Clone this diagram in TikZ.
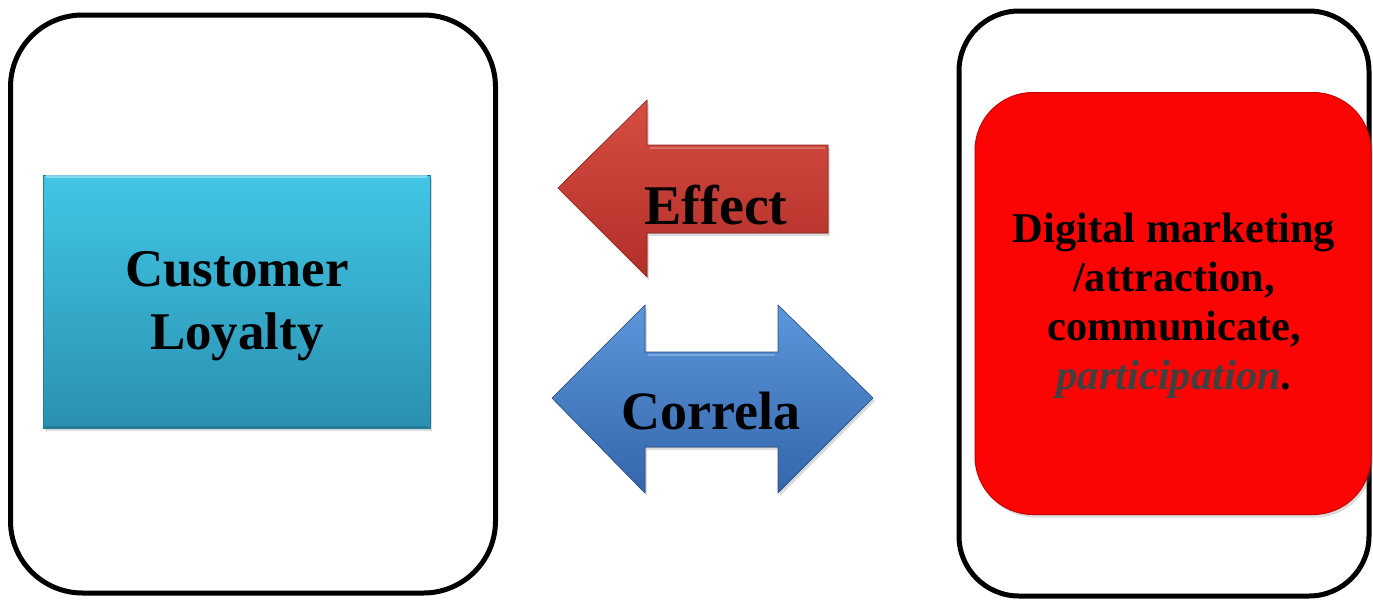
\documentclass[tikz,border=0pt]{standalone}
\usepackage{fontspec}
\setmainfont{Liberation Serif}
\usetikzlibrary{shadows}

\definecolor{cyanTop}{RGB}{66,198,230}
\definecolor{cyanBot}{RGB}{42,144,176}
\definecolor{effTop}{RGB}{214,78,66}
\definecolor{effBot}{RGB}{178,46,40}
\definecolor{corTop}{RGB}{92,150,218}
\definecolor{corBot}{RGB}{52,102,170}
\definecolor{boxRed}{RGB}{252,4,4}
\definecolor{partGray}{RGB}{64,64,64}

\tikzset{
  frame/.style={draw=black, line width=5pt, fill=white, inner sep=0pt},
  softshadow/.style={drop shadow={opacity=0.28, shadow xshift=2pt, shadow yshift=-3pt}},
  label/.style={font=\bfseries, text=black, align=center, inner sep=0pt},
}

\begin{document}
\begin{tikzpicture}[x=1pt, y=-1pt]
  \useasboundingbox (0,0) rectangle (1373,600);

  % outer frames
  \node[frame, rounded corners=72pt, minimum width=485pt, minimum height=578pt]
    (leftframe) at (253,304) {};
  \node[frame, rounded corners=60pt, minimum width=410pt, minimum height=585pt]
    (rightframe) at (1164,303.5) {};

  % customer loyalty box
  \node[softshadow, top color=cyanTop, bottom color=cyanBot, draw=cyanBot!85!black, line width=0.6pt,
        minimum width=387pt, minimum height=253pt, inner sep=0pt]
    (loyalty) at (236.5,301.5) {};
  \draw[cyanTop!55!white, line width=3pt, opacity=0.8]
    ([xshift=3pt,yshift=-2pt]loyalty.north west) -- ([xshift=-3pt,yshift=-2pt]loyalty.north east);
  \draw[cyanBot!70!black, line width=2pt, opacity=0.5]
    ([xshift=2pt,yshift=1.5pt]loyalty.south west) -- ([xshift=-2pt,yshift=1.5pt]loyalty.south east);
  \node[label, font=\fontsize{53}{63}\selectfont\bfseries] (loyaltytext) at (237,306)
    {Customer\\Loyalty};

  % digital marketing box, lying over the frame's right side
  \node[softshadow, fill=boxRed, draw=red!78!black, line width=1pt, rounded corners=58pt,
        minimum width=396pt, minimum height=422pt, inner sep=0pt]
    (digital) at (1173,303.5) {};
  \node[label, font=\fontsize{42.5}{49}\selectfont\bfseries] (digitaltext) at (1174,306)
    {Digital marketing\\/attraction,\\communicate,\\{\color{partGray}\itshape participation}.};

  % effect arrow
  \coordinate (efftip) at (558,188);
  \filldraw[softshadow, top color=effTop, bottom color=effBot, draw=effBot!80!black, line width=0.6pt]
    (efftip) -- (647,100) -- (647,145) -- (828,145) -- (828,233) -- (647,233) -- (647,277) -- cycle;
  \draw[effTop!60!white, line width=2pt, opacity=0.5] (650,148) -- (825,148);
  \node[label, font=\fontsize{56}{62}\selectfont\bfseries] (effect) at (716,205) {Effect};

  % correlation arrow
  \coordinate (corleft) at (552,398);
  \coordinate (corright) at (873,398);
  \filldraw[softshadow, top color=corTop, bottom color=corBot, draw=corBot!80!black, line width=0.6pt]
    (corleft) -- (645,305) -- (645,352) -- (778,352) -- (778,305) -- (corright)
    -- (778,493) -- (778,447) -- (645,447) -- (645,493) -- cycle;
  \draw[corTop!55!white, line width=2.5pt, opacity=0.5] (648,355) -- (775,355);
  \node[label, font=\fontsize{54}{60}\selectfont\bfseries] (correla) at (711,411) {Correla};
\end{tikzpicture}
\end{document}
